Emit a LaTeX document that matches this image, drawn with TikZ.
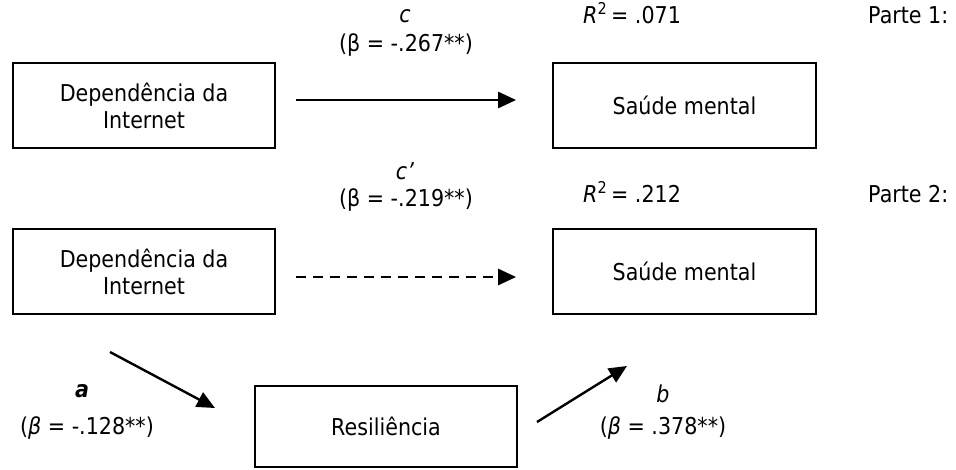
\documentclass[tikz,border=0pt]{standalone}
\usepackage{fontspec}
\setmainfont{DejaVu Sans}[FakeStretch=0.89]
\usetikzlibrary{arrows.meta}
\begin{document}
\begin{tikzpicture}[x=1pt,y=-1pt,
  txt/.style={font=\fontsize{23.2}{27}\selectfont},
  box/.style={txt, draw, line width=1.8pt, minimum width=262pt, minimum height=85pt, inner sep=0pt, align=center},
  lbl/.style={txt, inner sep=0pt},
  arr/.style={line width=2.8pt, -{Triangle[length=18pt,width=16pt]}},
]
\useasboundingbox (0,0) rectangle (956,470);

% Part 1
\node[box] (di1) at (144,105.5) {Dependência da\\Internet};
\node[box, minimum width=263pt] (sm1) at (684.5,105.5) {Saúde mental};
\draw[arr] ([xshift=20pt,yshift=5.5pt]di1.east) -- ([xshift=-36pt,yshift=5.5pt]sm1.west);
\node[lbl, anchor=base] (lc) at (405,23) {\textit{c}};
\node[lbl, anchor=base] (lbc) at (406,51.5) {(β = -.267**)};
\node[lbl, anchor=base west] (r1) at (583,24) {\textit{R}\textsuperscript{2}\,= .071};
\node[lbl, anchor=base west] (p1) at (868,24) {Parte 1:};

% Part 2
\node[box] (di2) at (144,271.5) {Dependência da\\Internet};
\node[box, minimum width=263pt] (sm2) at (684.5,271.5) {Saúde mental};
\draw[arr, dash pattern=on 10pt off 7pt] ([xshift=20pt,yshift=-5.5pt]di2.east) -- ([xshift=-36pt,yshift=-5.5pt]sm2.west);
\node[lbl, anchor=base] (lcp) at (405,180) {\textit{c’}};
\node[lbl, anchor=base] (lbcp) at (406,207) {(β = -.219**)};
\node[lbl, anchor=base west] (r2) at (583,203) {\textit{R}\textsuperscript{2}\,= .212};
\node[lbl, anchor=base west] (p2) at (868,203) {Parte 2:};

% Mediator
\node[box, minimum height=81pt] (res) at (386,426.5) {Resiliência};
\coordinate (a1) at (110,352);
\coordinate (a2) at (215,408);
\draw[arr, line width=2.4pt] (a1) -- (a2);
\coordinate (b1) at (537,422);
\coordinate (b2) at (627,366);
\draw[arr, line width=2.4pt] (b1) -- (b2);
\node[lbl, anchor=base] (la) at (82,397) {\textbf{\textit{a}}};
\node[lbl, anchor=base] (lba) at (87,434) {(\textit{β} = -.128**)};
\node[lbl, anchor=base] (lb) at (663,402) {\textit{b}};
\node[lbl, anchor=base] (lbb) at (663,434) {(\textit{β} = .378**)};
\end{tikzpicture}
\end{document}
